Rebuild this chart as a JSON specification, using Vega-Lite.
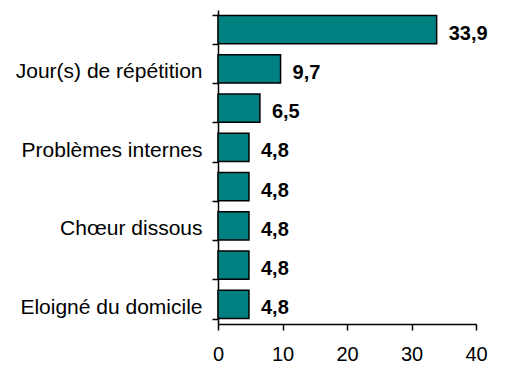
{
  "$schema": "https://vega.github.io/schema/vega-lite/v6.json",
  "width": 258,
  "height": 314,
  "autosize": "none",
  "padding": {"left": 218, "top": 10, "right": 29, "bottom": 46},
  "background": "white",
  "config": {
    "view": {"stroke": null},
    "font": "Liberation Sans",
    "locale": {
      "number": {"decimal": ",", "thousands": " ", "grouping": [3], "currency": ["", " €"]}
    }
  },
  "data": {
    "values": [
      {"rang": 1, "motif": " ", "pct": 33.9},
      {"rang": 2, "motif": "Jour(s) de répétition", "pct": 9.7},
      {"rang": 3, "motif": "  ", "pct": 6.5},
      {"rang": 4, "motif": "Problèmes internes", "pct": 4.8},
      {"rang": 5, "motif": "   ", "pct": 4.8},
      {"rang": 6, "motif": "Chœur dissous", "pct": 4.8},
      {"rang": 7, "motif": "    ", "pct": 4.8},
      {"rang": 8, "motif": "Eloigné du domicile", "pct": 4.8}
    ]
  },
  "encoding": {
    "y": {
      "field": "motif",
      "type": "nominal",
      "sort": {"field": "rang", "order": "ascending"},
      "scale": {"paddingInner": 0.28, "paddingOuter": 0.14},
      "axis": {
        "title": null,
        "tickBand": "extent",
        "domainColor": "black",
        "domainWidth": 1.5,
        "tickColor": "black",
        "tickWidth": 1.5,
        "tickSize": 6,
        "labelPadding": 10,
        "labelFontSize": 21,
        "labelColor": "black",
        "labelOffset": 3,
        "labelLimit": 0
      }
    },
    "x": {
      "field": "pct",
      "type": "quantitative",
      "scale": {"domain": [0, 40], "nice": false},
      "axis": {
        "title": null,
        "values": [0, 10, 20, 30, 40],
        "grid": false,
        "domainColor": "black",
        "domainWidth": 1.5,
        "tickColor": "black",
        "tickWidth": 1.5,
        "tickSize": 6,
        "labelPadding": 14,
        "labelFontSize": 20,
        "labelColor": "black",
        "labelFlush": false,
        "format": "d"
      }
    }
  },
  "layer": [
    {
      "mark": {"type": "bar", "color": "#008080", "stroke": "black", "strokeWidth": 1.5}
    },
    {
      "mark": {
        "type": "text",
        "align": "left",
        "baseline": "middle",
        "dx": 12,
        "dy": 4,
        "fontSize": 20,
        "fontWeight": "bold",
        "color": "black"
      },
      "encoding": {
        "text": {"field": "pct", "type": "quantitative", "format": ".1f"}
      }
    }
  ]
}
